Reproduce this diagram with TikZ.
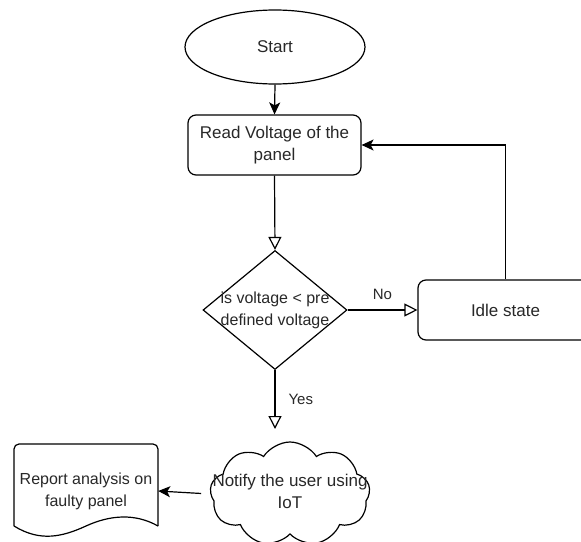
\documentclass[tikz,border=0pt]{standalone}
\usepackage{fontspec}
\setmainfont{Liberation Sans}
\usetikzlibrary{shapes.geometric,shapes.symbols,arrows.meta}
\definecolor{txt}{RGB}{40,40,40}
\newcommand{\tA}{\fontsize{17}{22}\selectfont}
\newcommand{\tB}{\fontsize{16}{22}\selectfont}
\newcommand{\tC}{\fontsize{15}{18}\selectfont}
\tikzset{
  lw/.style={line width=1.2pt},
  box/.style={draw,lw,rounded corners=8pt,inner sep=0pt,align=center},
  lbl/.style={text=txt,align=center,inner sep=0pt},
  fill arrow/.style={-{Stealth[length=12pt,width=11pt,inset=3pt]}},
  open arrow/.style={-{Triangle[open,length=13pt,width=13pt,fill=white]}},
}
\begin{document}
\begin{tikzpicture}[x=1pt,y=-1pt]
\useasboundingbox (0,0) rectangle (581,541);
\fill[white] (0,0) rectangle (581,541);

% start
\node[draw,lw,ellipse,minimum width=180pt,minimum height=74pt,inner sep=0pt] (start) at (275,47) {};
\node[lbl,font=\tA] at (start.center) {Start};

% read
\node[box,minimum width=173pt,minimum height=60pt] (read) at (274.5,145) {};
\node[lbl,font=\tA] at (read.center) {Read Voltage of the\\panel};

% decision
\node[draw,lw,diamond,minimum width=144pt,minimum height=119pt,inner sep=0pt] (dec) at (275,310) {};
\node[lbl,font=\tB] at (dec.center) {is voltage < pre\\defined voltage};

% idle
\node[box,minimum width=175pt,minimum height=60pt] (idle) at (505.5,310) {};
\node[lbl,font=\tA] at (idle.center) {Idle state};

% cloud
\node[draw,lw,cloud,cloud puffs=9,cloud puff arc=115,aspect=1.5,minimum width=160pt,minimum height=104pt,inner sep=0pt] (notify) at (290,494) {};
\node[lbl,font=\tA] at (290,491) {Notify the user using\\IoT};

% report document
\node[inner sep=0pt,minimum width=144pt,minimum height=70pt] (report) at (86,491) {};
\draw[lw,rounded corners=5pt] (14,526) -- (14,444) -- (158,444) -- (158,526);
\draw[lw] (14,526) .. controls (40,542) and (62,537) .. (86,526) .. controls (110,515) and (135,513) .. (158,526);
\node[lbl,font=\tB] at (report.center) {Report analysis on\\faulty panel};

% connectors
\draw[lw,fill arrow] (start.south) -- (read.north);
\draw[lw,open arrow] (read.south) -- (dec.north);
\draw[lw,open arrow] (dec.east) -- node[lbl,font=\tC,above=10pt]{No} (idle.west);
\draw[lw,fill arrow] (idle.north) |- (read.east);
\draw[lw,open arrow] (dec.south) -- node[lbl,font=\tC,right=13pt,pos=0.5]{Yes} (275,429);
\draw[lw,fill arrow,shorten <=9pt] (notify.west) -- (report.east);
\end{tikzpicture}
\end{document}
